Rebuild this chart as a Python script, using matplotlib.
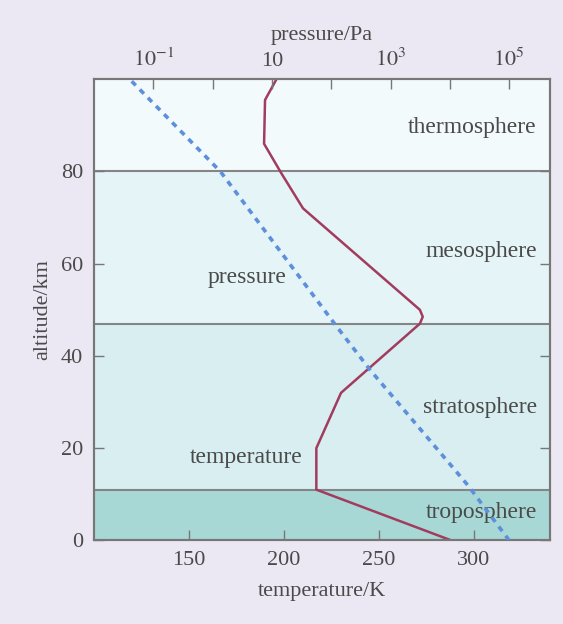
import numpy as np
import matplotlib
matplotlib.use('Agg')
import matplotlib.pyplot as plt

plt.rcParams['font.family'] = ['Liberation Serif', 'DejaVu Serif']
plt.rcParams['mathtext.fontset'] = 'stix'

# layer boundaries (km) and names
layer_bottoms = [0, 11, 47, 80]
layer_tops = [11, 47, 80, 100]
layer_names = ['troposphere', 'stratosphere', 'mesosphere', 'thermosphere']
layer_label_alt = [6, 28.8, 62.6, 89.6]
layer_colors = ['#a8d8d6', '#d8eef0', '#e5f4f6', '#f3fafc']

# temperature profile
temp_alt = [0, 11, 20, 32, 47, 48.5, 50, 72, 79.6, 86, 95.5, 100]
temp_K = [288, 217, 217, 230, 271.5, 273, 271.5, 210, 198.6, 189.5, 190, 196]

# pressure profile (Pa)
pres_alt = [0, 12, 37, 46, 80, 100]
pres_Pa = [1.0e5, 2.0e4, 450, 130, 1.35, 0.04]

temp_ticks = [150, 200, 250, 300]
alt_ticks = [0, 20, 40, 60, 80]
pres_ticks = [1e-1, 1, 10, 1e2, 1e3, 1e4, 1e5]
pres_tick_labels = [r'$10^{-1}$', '', '10', '', r'$10^{3}$', '', r'$10^{5}$']

text_color = '#4a4a4a'
frame_color = '#777777'

fig = plt.figure(figsize=(5.63, 6.24), dpi=100)
fig.patch.set_facecolor('#ece8f3')
ax1 = fig.add_axes([0.167, 0.134, 0.810, 0.739])

# coloured layers
for b, t, c in zip(layer_bottoms, layer_tops, layer_colors):
    ax1.axhspan(b, t, color=c, lw=0, zorder=0)
for b in layer_bottoms[1:]:
    ax1.axhline(b, color='#858585', lw=1.5, zorder=1)

ax1.plot(temp_K, temp_alt, color='#a23c5f', lw=1.8, zorder=3)

ax1.set_xlim(100, 340)
ax1.set_ylim(0, 100)
ax1.set_xticks(temp_ticks)
ax1.set_yticks(alt_ticks)
ax1.tick_params(direction='in', length=7, width=1, color=frame_color,
                labelsize=16, labelcolor=text_color, right=True, pad=8)
ax1.set_xlabel('temperature/K', fontsize=16, color=text_color, labelpad=8)
ax1.set_ylabel('altitude/km', fontsize=16, color=text_color, labelpad=6)

for name, y in zip(layer_names, layer_label_alt):
    ax1.text(333, y, name, ha='right', va='center', fontsize=17, color=text_color, zorder=4)
ax1.text(180.8, 57, 'pressure', ha='center', va='center', fontsize=17, color=text_color, zorder=4)
ax1.text(180, 18, 'temperature', ha='center', va='center', fontsize=17, color=text_color, zorder=4)

# pressure on top log axis
ax2 = ax1.twiny()
ax2.set_xscale('log')
ax2.set_xlim(1e-2, 10 ** 5.69)
ax2.plot(pres_Pa, pres_alt, color='#5e8fdc', lw=2.6, linestyle=(0, (1.6, 1.6)), zorder=3)
ax2.set_xticks(pres_ticks)
ax2.set_xticklabels(pres_tick_labels)
ax2.xaxis.set_minor_locator(matplotlib.ticker.NullLocator())
ax2.tick_params(direction='in', length=7, width=1, color=frame_color,
                labelsize=16, labelcolor=text_color, pad=6)
ax2.set_xlabel('pressure/Pa', fontsize=16, color=text_color, labelpad=6)

for ax in (ax1, ax2):
    for s in ax.spines.values():
        s.set_color(frame_color)
        s.set_linewidth(1.5)

fig.savefig('out.png', dpi=100, facecolor=fig.get_facecolor())
